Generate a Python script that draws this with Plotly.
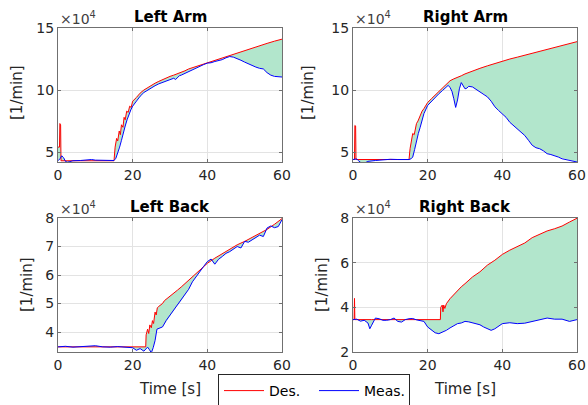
import plotly.graph_objects as go

# ---------------- data (values in units of 1e4 1/min) ----------------
la_des_t = [0, 0.4, 0.5, 0.7, 0.8, 2, 5, 8, 11, 15,
            15.3, 15.7, 16, 16.4, 16.7, 17, 17.4, 17.7, 18, 18.4,
            18.8, 19.2, 19.6, 20, 21, 22, 23, 24, 25, 26,
            27, 28, 29, 30, 31, 32, 33, 34, 35, 36,
            38, 40, 42, 44, 46, 48, 50, 52, 54, 56,
            58, 60]
la_des = [5.4, 5.4, 7.3, 7.2, 4.3, 4.3, 4.3, 4.32, 4.3, 4.3,
          5.4, 6.1, 5.9, 6.7, 6.4, 7.2, 7.0, 7.8, 7.6, 8.3,
          8.2, 8.7, 8.6, 9.1, 9.4, 9.75, 10.0, 10.2, 10.4, 10.55,
          10.7, 10.85, 10.95, 11.1, 11.2, 11.3, 11.45, 11.55, 11.7, 11.8,
          12.0, 12.2, 12.42, 12.62, 12.82, 13.0, 13.2, 13.4, 13.58, 13.76,
          13.94, 14.1]
la_meas_t = [0, 0.5, 1, 1.5, 2, 2.5, 3, 4, 6, 8,
             9, 10, 12, 14, 15, 15.5, 16, 16.5, 17, 17.5,
             18, 18.5, 19, 19.5, 20, 21, 22, 23, 24, 25,
             26, 27, 28, 29, 30, 31, 31.5, 32, 32.5, 33,
             34, 35, 36, 37, 38, 39, 40, 41, 42, 43,
             44, 45, 46, 47, 48, 49, 50, 51, 52, 53,
             54, 55, 56, 57, 58, 59, 60]
la_meas = [4.3, 4.45, 4.7, 4.55, 4.25, 4.18, 4.22, 4.3, 4.32, 4.35,
           4.4, 4.35, 4.33, 4.3, 4.32, 4.5, 4.9, 5.4, 5.95, 6.6,
           7.1, 7.6, 8.05, 8.4, 8.7, 9.15, 9.5, 9.8, 10.0, 10.2,
           10.35, 10.5, 10.6, 10.75, 10.85, 10.95, 10.85, 11.0, 11.15, 11.2,
           11.35, 11.5, 11.65, 11.8, 11.95, 12.05, 12.17, 12.2, 12.3, 12.35,
           12.45, 12.6, 12.7, 12.65, 12.55, 12.4, 12.25, 12.1, 11.95, 11.85,
           11.75, 11.7, 11.4, 11.2, 11.1, 11.1, 11.05]

ra_des_t = [0, 0.4, 0.5, 0.7, 0.8, 2, 5, 10, 15, 15.3,
            15.7, 16, 16.4, 16.8, 17, 17.4, 17.8, 18, 18.5, 19,
            19.5, 20, 21, 22, 23, 24, 25, 26, 27, 28,
            29, 30, 32, 34, 36, 38, 40, 42, 44, 46,
            48, 50, 52, 54, 56, 58, 60]
ra_des = [4.4, 4.4, 7.15, 7.1, 4.4, 4.4, 4.4, 4.4, 4.4, 5.3,
          6.2, 6.5, 6.4, 7.2, 7.3, 7.5, 7.8, 8.0, 8.3, 8.5,
          8.8, 9.0, 9.3, 9.6, 9.9, 10.2, 10.45, 10.75, 10.9, 11.0,
          11.15, 11.3, 11.55, 11.75, 11.95, 12.15, 12.35, 12.5, 12.65, 12.8,
          12.95, 13.1, 13.25, 13.4, 13.55, 13.7, 13.9]
ra_meas_t = [0, 1, 1.5, 2, 2.5, 3, 4, 6, 8, 10,
             12, 14, 15, 15.5, 16, 16.5, 17, 17.5, 18, 18.5,
             19, 20, 21, 22, 23, 24, 25, 25.5, 26, 26.5,
             27, 27.5, 28, 28.5, 29, 29.5, 30, 30.5, 31, 32,
             33, 34, 35, 36, 37, 38, 39, 40, 41, 42,
             43, 44, 45, 46, 47, 48, 49, 50, 51, 52,
             53, 54, 55, 56, 57, 58, 59, 60]
ra_meas = [4.4, 4.45, 4.3, 4.15, 4.05, 4.1, 4.25, 4.32, 4.38, 4.42,
           4.4, 4.38, 4.4, 4.45, 4.6, 5.2, 5.95, 6.5, 7.0, 7.6,
           8.1, 8.76, 9.1, 9.44, 9.7, 9.97, 10.3, 10.38, 10.2, 9.9,
           9.3, 8.6, 9.2, 10.1, 10.6, 10.3, 10.1, 10.15, 10.3, 10.25,
           10.05, 9.84, 9.7, 9.45, 9.1, 8.65, 8.35, 8.1, 7.8, 7.4,
           7.15, 6.9, 6.6, 6.34, 5.95, 5.55, 5.35, 5.27, 5.1, 4.87,
           4.8, 4.73, 4.6, 4.46, 4.4, 4.33, 4.28, 4.2]

lb_des_t = [0, 5, 10, 15, 20, 23.5, 23.6, 24, 24.3, 24.6,
            25, 25.3, 25.6, 26, 26.3, 26.6, 27, 27.5, 28, 28.5,
            29, 29.5, 30, 31, 32, 33, 34, 35, 36, 37,
            38, 39, 40, 42, 44, 46, 48, 50, 52, 54,
            56, 58, 60]
lb_des = [3.48, 3.48, 3.49, 3.48, 3.48, 3.48, 3.9, 4.1, 3.95, 4.25,
          4.15, 4.4, 4.3, 4.7, 4.6, 4.85, 4.9, 4.95, 5.0, 5.1,
          5.15, 5.2, 5.24, 5.35, 5.47, 5.58, 5.7, 5.82, 5.94, 6.06,
          6.18, 6.3, 6.41, 6.59, 6.75, 6.9, 7.06, 7.18, 7.32, 7.45,
          7.6, 7.78, 7.98]
lb_meas_t = [0, 2, 4, 6, 8, 10, 12, 14, 16, 18,
             20, 21, 22, 23, 24, 24.5, 25, 25.5, 26, 26.5,
             27, 28, 29, 30, 31, 32, 33, 34, 35, 36,
             37, 38, 39, 40, 41, 42, 43, 44, 45, 46,
             47, 48, 49, 50, 51, 52, 53, 54, 55, 56,
             57, 58, 59, 60]
lb_meas = [3.48, 3.5, 3.47, 3.49, 3.5, 3.52, 3.48, 3.47, 3.49, 3.46,
           3.45, 3.36, 3.42, 3.33, 3.47, 3.38, 3.27, 3.45, 3.7, 4.1,
           4.12, 4.18, 4.41, 4.59, 4.75, 4.94, 5.1, 5.29, 5.5, 5.76,
           5.95, 6.12, 6.3, 6.47, 6.56, 6.38, 6.55, 6.65, 6.76, 6.82,
           6.9, 7.0, 6.95, 7.18, 7.15, 7.24, 7.3, 7.4, 7.35, 7.65,
           7.72, 7.66, 7.7, 7.94]

rb_des_t = [0, 0.3, 0.4, 0.5, 5, 10, 15, 20, 23.4, 23.5,
            23.9, 24.1, 24.3, 24.6, 25, 26, 27, 28, 29, 30,
            32, 34, 36, 38, 40, 42, 44, 46, 48, 50,
            52, 54, 56, 58, 60]
rb_des = [3.45, 3.45, 4.4, 3.45, 3.45, 3.45, 3.45, 3.45, 3.45, 4.0,
          4.1, 3.8, 4.1, 3.95, 4.16, 4.39, 4.58, 4.76, 4.92, 5.06,
          5.36, 5.59, 5.89, 6.11, 6.37, 6.56, 6.72, 6.88, 7.12, 7.27,
          7.42, 7.52, 7.64, 7.82, 7.99]
rb_meas_t = [0, 1, 2, 3, 4, 4.5, 5, 6, 7, 8,
             9, 10, 11, 12, 13, 14, 15, 16, 17, 18,
             19, 20, 21, 22, 23, 24, 25, 26, 27, 28,
             29, 30, 31, 32, 33, 34, 35, 36, 37, 38,
             39, 40, 42, 44, 46, 48, 50, 52, 54, 56,
             58, 59, 60]
rb_meas = [3.45, 3.47, 3.38, 3.42, 3.3, 3.04, 3.2, 3.52, 3.49, 3.42,
           3.42, 3.45, 3.52, 3.37, 3.34, 3.45, 3.49, 3.5, 3.44, 3.4,
           3.37, 3.12, 2.97, 2.86, 2.82, 2.89, 2.97, 3.08, 3.19, 3.27,
           3.3, 3.37, 3.35, 3.31, 3.27, 3.22, 3.12, 3.05, 2.97, 3.04,
           3.15, 3.27, 3.31, 3.27, 3.29, 3.37, 3.46, 3.52, 3.47, 3.47,
           3.37, 3.42, 3.45]

titles = ["Left Arm", "Right Arm", "Left Back", "Right Back"]
x_ticks = [0, 20, 40, 60]
y_ticks = [[5, 10, 15], [5, 10, 15], [4, 5, 6, 7, 8], [2, 4, 6, 8]]
y_ranges = [[4.2, 15], [4.2, 15], [3.3, 8], [2, 8]]
legend_names = ["Des.", "Meas."]

# ---------------- figure ----------------
W, H = 588, 405
FONT = "DejaVu Sans"
TXT = "#262626"
FILL = "#b2e6cc"
RED = "#ff0000"
BLUE = "#0000ff"

# pixel boxes of the four axes: (left, right, top, bottom)
boxes = [(58, 282, 28, 162), (353, 577, 28, 162),
         (58, 282, 218, 352), (353, 577, 218, 352)]

series = [(la_des_t, la_des, la_meas_t, la_meas),
          (ra_des_t, ra_des, ra_meas_t, ra_meas),
          (lb_des_t, lb_des, lb_meas_t, lb_meas),
          (rb_des_t, rb_des, rb_meas_t, rb_meas)]

fig = go.Figure()
annotations = []
layout = {}


def px(xp):
    return xp / W


def py(yp):
    return 1 - yp / H


for i, ((dt, dv, mt, mv), box) in enumerate(zip(series, boxes)):
    sfx = "" if i == 0 else str(i + 1)
    xa, ya = "x" + sfx, "y" + sfx
    fig.add_trace(go.Scatter(x=dt + mt[::-1], y=dv + mv[::-1], fill="toself",
                             fillcolor=FILL, line=dict(width=0), mode="lines",
                             hoverinfo="skip", showlegend=False, xaxis=xa, yaxis=ya))
    fig.add_trace(go.Scatter(x=dt, y=dv, mode="lines", line=dict(color=RED, width=1),
                             name=legend_names[0], showlegend=(i == 0), xaxis=xa, yaxis=ya))
    fig.add_trace(go.Scatter(x=mt, y=mv, mode="lines", line=dict(color=BLUE, width=1),
                             name=legend_names[1], showlegend=(i == 0), xaxis=xa, yaxis=ya))
    l, r, t, b = box
    common = dict(showline=True, linecolor="#707070", linewidth=1, mirror="ticks",
                  ticks="inside", ticklen=3, tickcolor="#707070",
                  showgrid=True, gridcolor="#e3e3e3", gridwidth=1, zeroline=False,
                  automargin=False,
                  tickfont=dict(family=FONT, size=14, color=TXT))
    layout["xaxis" + sfx] = dict(domain=[px(l), px(r)], range=[0, 60], tickvals=x_ticks,
                                 anchor=ya, **common)
    layout["yaxis" + sfx] = dict(domain=[py(b), py(t)], range=y_ranges[i],
                                 tickvals=y_ticks[i], anchor=xa, **common)
    # title
    annotations.append(dict(text="<b>" + titles[i] + "</b>", x=px((l + r) / 2),
                            y=py(t - 11), xref="paper", yref="paper",
                            xanchor="center", yanchor="middle",
                            showarrow=False, font=dict(family=FONT, size=15, color="black")))
    # exponent label
    annotations.append(dict(text="×10<sup>4</sup>", x=px(l), y=py(t - 10),
                            xref="paper", yref="paper", xanchor="left", yanchor="middle",
                            showarrow=False, font=dict(family=FONT, size=14, color="#404040")))

# y-axis labels
for (xc, yc) in [(17, 93), (308, 93), (27, 285), (322, 285)]:
    annotations.append(dict(text="[1/min]", x=px(xc), y=py(yc), xref="paper", yref="paper",
                            xanchor="center", yanchor="middle",
                            textangle=-90, showarrow=False,
                            font=dict(family=FONT, size=15, color=TXT)))
# x-axis labels
for xc in [170, 465]:
    annotations.append(dict(text="Time [s]", x=px(xc), y=py(389), xref="paper", yref="paper",
                            xanchor="center", yanchor="middle",
                            showarrow=False, font=dict(family=FONT, size=15, color=TXT)))

fig.update_layout(
    width=W, height=H, margin=dict(l=0, r=0, t=0, b=0, pad=0, autoexpand=False),
    paper_bgcolor="white", plot_bgcolor="white",
    annotations=annotations,
    legend=dict(orientation="h", x=px(218), y=py(374), xanchor="left", yanchor="top",
                bgcolor="white", bordercolor="#262626", borderwidth=1,
                font=dict(family=FONT, size=14, color="black"),
                itemwidth=40, entrywidth=40, tracegroupgap=0),
    showlegend=True,
    **layout,
)

fig.write_html("out.html", config={"displayModeBar": False},
               post_script="document.body.style.margin='0px';")
